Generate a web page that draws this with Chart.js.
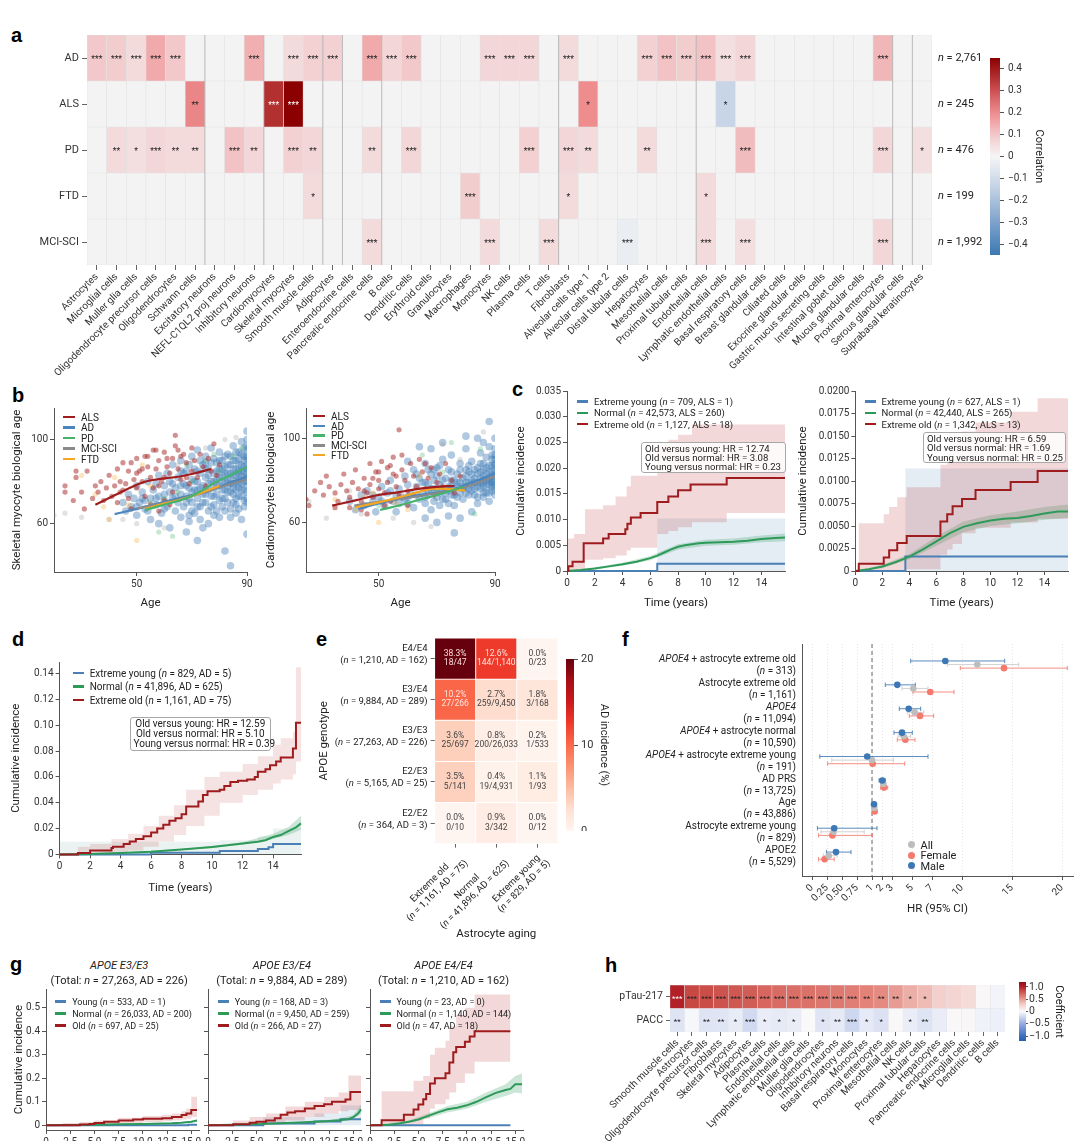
<!DOCTYPE html>
<html><head><meta charset="utf-8"><title>Figure</title>
<script src="https://cdn.jsdelivr.net/npm/chart.js@4.4.1/dist/chart.umd.min.js"></script>
<style>
html,body{margin:0;padding:0;background:#fff}
body{position:relative;width:1080px;height:1141px;overflow:hidden;font-family:Roboto,"Liberation Sans",Arial,sans-serif;color:#222}
canvas{position:absolute}
.t{position:absolute;white-space:nowrap;line-height:1;color:#222}
.pl{position:absolute;font:700 20px "Liberation Sans",Arial,sans-serif;color:#000;line-height:20px}
.lg{position:absolute;font-size:9.5px;line-height:11px;white-space:nowrap;color:#222}
.lg .s{display:inline-block;height:2.4px;vertical-align:middle;margin-right:6px;position:relative;top:-1px}
.lg .c{display:inline-block;width:7px;height:7px;border-radius:50%;vertical-align:middle;margin-right:6px;position:relative;top:-1px}
.box{position:absolute;border:1px solid #a8a8a8;border-radius:3px;background:rgba(255,255,255,0.85);font-size:9.6px;line-height:9.4px;padding:1px 3px;white-space:nowrap;color:#222;box-sizing:border-box}
</style></head><body>
<script>
const FF='Roboto, "Liberation Sans", Arial, sans-serif';
Chart.defaults.font.family=FF;Chart.defaults.font.size=10;Chart.defaults.color='#333';

/* ===================== DATA ===================== */
/* panel a */
const cellTypesA=['Astrocytes','Microglial cells','Muller glia cells','Oligodendrocyte precursor cells','Oligodendrocytes','Schwann cells','Excitatory neurons','NEFL-C1QL2 proj neurons','Inhibitory neurons','Cardiomyocytes','Skeletal myocytes','Smooth muscle cells','Adipocytes','Enteroendocrine cells','Pancreatic endocrine cells','B cells','Dendritic cells','Erythroid cells','Granulocytes','Macrophages','Monocytes','NK cells','Plasma cells','T cells','Fibroblasts','Alveolar cells type 1','Alveolar cells type 2','Distal tubular cells','Hepatocytes','Mesothelial cells','Proximal tubular cells','Endothelial cells','Lymphatic endothelial cells','Basal respiratory cells','Breast glandular cells','Ciliated cells','Exocrine glandular cells','Gastric mucus secreting cells','Intestinal goblet cells','Mucus glandular cells','Proximal enterocytes','Serous glandular cells','Suprabasal keratinocytes'];
const rowsA=['AD','ALS','PD','FTD','MCI-SCI'];
const nA=['n = 2,761','n = 245','n = 476','n = 199','n = 1,992'];
const sigAD=[[0,.10,'***'],[1,.09,'***'],[2,.06,'***'],[3,.15,'***'],[4,.10,'***'],[8,.14,'***'],[10,.06,'***'],[11,.08,'***'],[12,.08,'***'],[14,.15,'***'],[15,.07,'***'],[16,.10,'***'],[20,.07,'***'],[21,.07,'***'],[22,.07,'***'],[24,.06,'***'],[28,.08,'***'],[29,.11,'***'],[30,.09,'***'],[31,.11,'***'],[32,.05,'***'],[33,.07,'***'],[40,.13,'***']];
const sigALS=[[5,.21,'**'],[9,.36,'***'],[10,.45,'***'],[25,.20,'*'],[32,-.13,'*']];
const sigPD=[[1,.06,'**'],[2,.05,'*'],[3,.07,'***'],[4,.06,'**'],[5,.06,'**'],[7,.11,'***'],[8,.07,'**'],[10,.08,'***'],[11,.07,'**'],[14,.06,'**'],[16,.07,'***'],[22,.08,'***'],[24,.07,'***'],[25,.06,'**'],[28,.06,'**'],[33,.12,'***'],[40,.07,'***'],[42,.05,'*']];
const sigFTD=[[11,.06,'*'],[19,.09,'***'],[24,.06,'*'],[31,.06,'*']];
const sigMCI=[[14,.06,'***'],[20,.06,'***'],[23,.06,'***'],[27,-.03,'***'],[31,.06,'***'],[33,.05,'***'],[40,.07,'***']];
const groupStartsA=[6,9,12,13,15,24,31,41,42];
const corrTicks=[-0.4,-0.3,-0.2,-0.1,0,0.1,0.2,0.3,0.4];

/* panel b : skeletal myocytes */
const ptSkALS=[[24,78],[24,75],[27,71],[28,85],[28,82],[30,75],[31,67],[32,85],[34,72],[35,78],[36,75],[37,80],[38,71],[39,77],[40,83],[41,73],[42,78],[43,86],[44,80],[44,75],[45,89],[46,79],[47,72],[47,85],[48,89],[49,81],[50,77],[50,91],[51,85],[52,80],[53,92],[53,73],[54,87],[55,82],[56,95],[56,77],[57,86],[58,90],[59,80],[60,94],[60,71],[61,87],[62,84],[63,91],[63,75],[64,102],[64,97],[65,86],[66,81],[67,93],[68,89],[69,79],[70,96],[70,85],[71,90],[72,82],[73,93],[74,87],[75,78],[76,91],[77,85],[78,98],[79,83],[80,88],[55,69],[58,66],[62,69],[48,67],[52,86],[45,76],[60,82],[66,92],[58,78],[43,70],[50,84],[54,92],[57,95],[61,91],[65,95],[68,82]];
const ptSkAD=[[45,70],[46,66],[47,74],[48,68],[49,72],[50,64],[50,78],[51,70],[52,75],[53,67],[54,80],[55,72],[55,62],[56,76],[57,69],[58,83],[58,73],[59,65],[60,78],[60,71],[61,84],[61,68],[62,75],[62,80],[63,72],[63,88],[64,66],[64,77],[65,82],[65,70],[66,74],[66,90],[67,79],[67,68],[68,85],[68,73],[69,77],[69,64],[70,81],[70,92],[70,70],[71,76],[71,86],[72,72],[72,80],[72,95],[73,68],[73,84],[74,78],[74,88],[74,74],[75,82],[75,70],[75,92],[76,76],[76,86],[76,66],[77,80],[77,73],[77,96],[78,84],[78,77],[78,69],[79,89],[79,81],[79,74],[80,86],[80,78],[80,71],[80,94],[81,83],[81,76],[81,90],[82,80],[82,87],[82,72],[83,84],[83,78],[83,93],[84,81],[84,88],[84,75],[85,86],[85,79],[85,97],[85,70],[86,83],[86,90],[86,76],[87,88],[87,81],[87,94],[87,73],[88,85],[88,79],[88,99],[89,87],[89,82],[89,92],[89,76],[90,88],[90,84],[90,80],[90,95],[90,100],[90,75],[90,104],[72,52],[74,58],[68,56],[84,40],[82,47],[76,60],[88,62],[86,65],[90,55],[62,58],[58,60],[78,64],[82,66],[66,63],[71,65],[75,86],[77,89],[79,66],[81,68],[83,70],[85,74],[87,77],[89,71],[84,67],[86,69],[88,73],[80,63],[73,62],[69,61],[70,75],[73,77],[76,79],[79,78],[82,76],[84,79],[86,80],[88,82],[90,78],[90,91],[89,96],[87,85],[85,83],[83,81],[81,80],[78,80],[75,76],[72,76],[68,78],[64,73],[60,74],[57,72],[53,71],
 [66,78],[67,84],[68,70],[69,88],[70,66],[71,80],[72,85],[73,90],[74,70],[75,74],[76,83],[77,68],[78,91],[79,85],[80,82],[80,90],[81,72],[82,84],[82,92],[83,75],[83,88],[84,84],[84,92],[85,77],[85,90],[86,72],[86,86],[86,94],[87,79],[87,84],[87,91],[88,76],[88,88],[88,93],[89,80],[89,85],[89,90],[90,82],[90,86],[90,92],[90,97],[90,72],[90,70],[89,68],[87,67],[84,63],[81,86],[78,73],[75,89],[72,68],[69,72],[66,85],[63,79],[60,67],[57,79],[54,66],[52,72],[50,68]];
const ptSkPD=[[55,70],[60,72],[65,75],[70,80],[75,90],[80,85],[63,54],[85,92],[58,56],[68,88],[78,93],[88,96]];
const ptSkMCI=[[20,64],[24,65],[30,63],[40,62],[45,62],[50,60],[60,58],[65,88],[75,96],[82,100],[48,67],[70,90],[86,101]];
const ptSkFTD=[[30,83],[35,74],[40,62],[50,52],[42,82],[55,78],[47,69],[52,88],[38,68]];
const trSkALS=[[35,69],[42,73.5],[50,78.5],[54,80.3],[60,81.5],[65,82.3],[70,83.6],[77,86]];
const trSkAD=[[42,64.5],[50,67],[58,69.7],[65,72],[73,74.5],[80,77.5],[85,80],[90,82.5]];
const trSkPD=[[53,66.5],[60,69],[68,72.1],[74,76],[78,79.3],[84,83],[90,87]];
const trSkMCI=[[50,67.2],[57,69],[65,71.5],[75,75],[82,78],[90,81]];
const trSkFTD=[[53,67],[60,69.5],[66,71.3],[73,74.5],[80,78]];
/* panel b : cardiomyocytes */
const ptCaALS=[[25,71],[26,68],[28,75],[30,79],[31,73],[32,82],[33,77],[35,74],[36,70],[37,78],[38,83],[39,75],[40,72],[41,79],[42,85],[43,76],[44,70],[45,81],[46,74],[47,88],[47,78],[48,72],[49,84],[50,76],[50,80],[51,89],[52,74],[53,86],[53,79],[54,70],[55,83],[55,91],[56,77],[57,104],[57,73],[58,85],[59,80],[60,75],[61,88],[62,82],[62,73],[63,77],[64,90],[65,84],[66,76],[67,81],[68,86],[69,73],[70,79],[71,83],[72,77],[73,88],[75,80],[76,74],[78,82],[44,66],[46,64],[52,68],[60,68],[40,67],[35,67],[48,81],[58,92],[66,88],[54,87],[50,84],[45,75],[56,82]];
const ptCaAD=[[40,70],[42,66],[44,73],[45,68],[46,75],[48,70],[49,65],[50,72],[51,77],[52,68],[53,74],[54,80],[55,70],[56,65],[57,76],[58,72],[59,82],[60,69],[60,78],[61,74],[62,85],[62,67],[63,77],[64,71],[64,81],[65,74],[66,88],[66,69],[67,78],[67,73],[68,83],[68,66],[69,76],[69,80],[70,72],[70,86],[71,78],[71,68],[72,75],[72,90],[73,81],[73,71],[74,77],[74,85],[75,73],[75,80],[75,92],[76,76],[76,68],[77,83],[77,79],[78,74],[78,88],[79,81],[79,71],[80,77],[80,85],[80,95],[81,79],[81,73],[82,83],[82,89],[83,76],[83,81],[84,86],[84,72],[85,79],[85,84],[85,93],[86,77],[86,82],[86,88],[87,80],[87,74],[87,91],[88,84],[88,78],[88,96],[89,82],[89,87],[89,75],[90,80],[90,85],[90,90],[90,78],[90,95],[90,100],[90,83],[90,73],[89,92],[88,70],[86,98],[84,100],[82,65],[78,62],[74,63],[70,60],[66,62],[76,55],[88,108],[80,101],[68,95],[60,89],[64,96],[72,98],[71,74],[74,75],[77,77],[80,79],[83,79],[85,81],[87,83],[89,79],[90,87],[88,81],[86,79],[84,77],[82,78],[79,76],[76,73],[73,74],[70,76],[67,75],[63,73],[59,71],[56,73],[83,73],[86,74],[89,77],[81,76],
 [65,79],[66,72],[67,85],[68,76],[69,70],[70,82],[71,87],[72,80],[73,76],[74,69],[75,84],[76,80],[77,72],[78,85],[79,77],[80,74],[80,82],[81,87],[82,75],[82,80],[83,85],[84,79],[84,83],[85,76],[85,88],[86,80],[86,85],[87,77],[87,86],[88,80],[88,87],[89,79],[89,84],[90,76],[90,82],[90,88],[90,92],[89,90],[88,74],[86,72],[84,69],[81,84],[78,79],[75,77],[72,71],[69,85],[66,79],[63,83],[60,72],[57,69],[54,75],[51,70],[48,73]];
const ptCaPD=[[50,68],[55,71],[60,73],[70,75],[80,78],[83,64],[75,98],[65,92],[72,84],[85,95]];
const ptCaMCI=[[26,70],[32,62],[44,64],[55,62],[62,60],[68,58],[40,75],[72,97],[78,90],[86,103]];
const ptCaFTD=[[35,71],[42,66],[50,60],[48,74],[56,69],[60,66],[70,74],[45,72],[64,82]];
const trCaALS=[[34,68],[42,70.5],[49,72.8],[57,74.4],[63,75.8],[69,76.8],[76,77.4]];
const trCaAD=[[43,66.4],[50,69],[57,71.2],[65,73.2],[74.5,75.2],[82,79],[90,83.2]];
const trCaPD=[[50.5,65.9],[57,68],[63,70.4],[70,73],[79,76.8]];
const trCaMCI=[[41.6,68],[50,69.8],[63,72.3],[72,74.5],[80,76.8],[90,81.9]];
const trCaFTD=[[42,67.2],[50,69.5],[60,73],[69,76],[79.7,75.2]];
const bAgeTicks=[50,90], bBioTicks=[60,100];

/* panel c : ALS cumulative incidence (step points [t, value]; bands [t, lower, upper]) */
const yearTicks=[0,2,4,6,8,10,12,14];
const cLTicks=[0,0.005,0.01,0.015,0.02,0.025,0.03,0.035];
const cRTicks=[0,0.0025,0.005,0.0075,0.01,0.0125,0.015,0.0175,0.02];
const cLOld=[[0,0],[0.1,0.0009],[0.4,0.0018],[1.2,0.0054],[2.6,0.0063],[3.0,0.0072],[4.2,0.0081],[4.35,0.0092],[4.6,0.0104],[5.3,0.0113],[6.5,0.0134],[7.3,0.0145],[8.0,0.0157],[8.9,0.0168],[11.5,0.0181],[15.7,0.0181]];
const cLOldBand=[[0,0,0.0063],[0.5,0,0.0072],[1.3,0.0022,0.012],[2.6,0.0025,0.0128],[3.5,0.003,0.0145],[4.3,0.004,0.0165],[4.6,0.0045,0.0185],[6.5,0.0072,0.0245],[7.3,0.0078,0.0255],[8.0,0.0085,0.0265],[9.0,0.0095,0.0285],[11.5,0.0113,0.0285],[15.7,0.0113,0.0285]];
const cLNorm=[[0,0],[1,0.0002],[2,0.0005],[3,0.0009],[4,0.0013],[5,0.0018],[6,0.0025],[6.5,0.003],[7,0.0036],[7.5,0.0042],[8,0.0047],[8.5,0.005],[9,0.0052],[9.5,0.0054],[10,0.0055],[11,0.0056],[12,0.0057],[13,0.0059],[14,0.0062],[15,0.0064],[15.7,0.0065]];
const cLNormBand=[[0,0,0],[2,0.0003,0.0007],[4,0.001,0.0016],[6,0.0021,0.0029],[8,0.0042,0.0052],[10,0.0049,0.0061],[12,0.0051,0.0063],[14,0.0056,0.0069],[15.7,0.0058,0.0073]];
const cLYoung=[[0,0],[6.5,0.0014],[15.7,0.0014]];
const cLYoungBand=[[0,0,0],[6.5,0,0.0102],[15.7,0,0.0102]];
const cROld=[[0,0],[0.25,0.0008],[2.1,0.0015],[2.5,0.0023],[3.1,0.0031],[3.8,0.0039],[6.3,0.0055],[6.8,0.0063],[7.2,0.0072],[7.9,0.008],[8.9,0.009],[11.5,0.0099],[13.5,0.0111],[15.75,0.0111]];
const cROldBand=[[0,0,0],[0.25,0,0.0053],[2.1,0,0.0063],[2.5,0,0.0071],[3.1,0,0.0082],[3.8,0.0002,0.0093],[6.3,0.0018,0.0118],[6.8,0.0024,0.013],[7.2,0.003,0.0145],[7.9,0.0042,0.0155],[8.9,0.0048,0.0165],[11.5,0.0054,0.0177],[13.5,0.0058,0.0192],[15.75,0.0058,0.0192]];
const cRNorm=[[0,0],[1,0.0002],[2,0.0005],[3,0.001],[4,0.0016],[5,0.0024],[6,0.0033],[7,0.0042],[8,0.0049],[9,0.0053],[10,0.0056],[11,0.0058],[12,0.0059],[13,0.0061],[14,0.0064],[15,0.0066],[15.75,0.0066]];
const cRNormBand=[[0,0,0],[2,0.0003,0.0007],[4,0.0013,0.0019],[6,0.0028,0.0038],[8,0.0043,0.0055],[10,0.005,0.0062],[12,0.0053,0.0066],[14,0.0057,0.0071],[15.75,0.0059,0.0074]];
const cRYoung=[[0,0],[3.7,0.0016],[15.75,0.0016]];
const cRYoungBand=[[0,0,0],[3.7,0,0.0114],[15.75,0,0.0114]];

/* panel d : AD cumulative incidence */
const dTicks=[0,0.02,0.04,0.06,0.08,0.1,0.12,0.14];
const dOld=[[0,0],[1.2,0.001],[2.0,0.003],[3.4,0.005],[3.5,0.006],[4.2,0.008],[4.6,0.01],[5.0,0.012],[5.5,0.014],[6.0,0.017],[6.4,0.02],[6.8,0.023],[7.2,0.026],[7.6,0.028],[8.0,0.031],[8.3,0.037],[8.9,0.037],[9.1,0.041],[9.4,0.046],[9.7,0.049],[10.5,0.05],[10.8,0.053],[11.2,0.056],[11.7,0.057],[12.3,0.058],[12.8,0.06],[13.0,0.064],[13.5,0.066],[13.8,0.069],[14.2,0.072],[14.5,0.075],[15.2,0.075],[15.3,0.082],[15.5,0.102],[15.83,0.102]];
const dOldBand=[[0,0,0],[1.2,0,0.006],[2,0,0.008],[3.4,0.001,0.012],[4.5,0.003,0.016],[5.5,0.006,0.022],[6.5,0.01,0.03],[7.5,0.015,0.038],[8.3,0.022,0.05],[9.5,0.03,0.06],[10.5,0.04,0.064],[12,0.046,0.07],[13,0.05,0.076],[14,0.055,0.085],[14.5,0.058,0.09],[15.3,0.062,0.095],[15.5,0.072,0.145],[15.83,0.072,0.145]];
const dNorm=[[0,0],[2,0.0003],[4,0.001],[6,0.002],[8,0.0038],[10,0.0058],[11,0.007],[12,0.0085],[13,0.0098],[13.5,0.011],[14,0.0135],[14.5,0.015],[15,0.018],[15.5,0.021],[15.83,0.024]];
const dNormBand=[[0,0,0],[4,0.0006,0.0014],[8,0.0032,0.0044],[10,0.005,0.0066],[12,0.0075,0.0095],[14,0.012,0.016],[15,0.015,0.021],[15.83,0.019,0.03]];
const dYoung=[[0,0],[6,0.0013],[10.5,0.0027],[13.0,0.0041],[13.7,0.0055],[14.0,0.008],[15.83,0.008]];
const dYoungBand=[[0,0,0.0098],[6,0,0.0098],[10.5,0,0.011],[13,0,0.014],[14,0,0.02],[15.83,0,0.02]];

/* panel e */
const genotypes=['E4/E4','E3/E4','E3/E3','E2/E3','E2/E2'];
const genoN=['(n = 1,210, AD = 162)','(n = 9,884, AD = 289)','(n = 27,263, AD = 226)','(n = 5,165, AD = 25)','(n = 364, AD = 3)'];
const agingGroups=['Extreme old','Normal','Extreme young'];
const agingN=['(n = 1,161, AD = 75)','(n = 41,896, AD = 625)','(n = 829, AD = 5)'];
const incE=[[38.3,12.6,0.0],[10.2,2.7,1.8],[3.6,0.8,0.2],[3.5,0.4,1.1],[0.0,0.9,0.0]];
const cntE=[['18/47','144/1,140','0/23'],['27/266','259/9,450','3/168'],['25/697','200/26,033','1/533'],['5/141','19/4,931','1/93'],['0/10','3/342','0/12']];
const incTicks=[0,10,20];

/* panel f : HR [estimate, lower, upper] */
const fLabels=['APOE4 + astrocyte extreme old','Astrocyte extreme old','APOE4','APOE4 + astrocyte normal','APOE4 + astrocyte extreme young','AD PRS','Age','Astrocyte extreme young','APOE2'];
const fN=['(n = 313)','(n = 1,161)','(n = 11,094)','(n = 10,590)','(n = 191)','(n = 13,725)','(n = 43,886)','(n = 829)','(n = 5,529)'];
const hrMale=[[8.33,4.87,14.27],[3.53,2.33,5.33],[4.67,3.73,5.87],[4.0,3.2,5.03],[0.92,0.13,6.6],[2.03,1.7,2.33],[1.2,1.07,1.37],[0.37,0.09,1.5],[0.40,0.24,0.65]];
const hrAll=[[11.53,8.53,15.67],[5.13,4.0,6.6],[5.27,4.53,6.17],[4.17,3.6,4.87],[1.0,0.33,3.17],[2.13,1.87,2.4],[1.23,1.1,1.37],[0.36,0.15,0.87],[0.28,0.19,0.42]];
const hrFemale=[[14.2,9.83,20.53],[6.83,5.1,9.2],[5.8,4.73,7.17],[4.33,3.53,5.3],[1.07,0.26,4.27],[2.2,1.87,2.57],[1.27,1.1,1.43],[0.34,0.11,1.03],[0.21,0.11,0.37]];
const fTickHR=[0,0.25,0.5,0.75,1,2,3,5,7,10,15,20];
const fTickLab=['0','0.25','0.50','0.75','1','2','3','5','7','10','15','20'];

/* panel g */
const gYTicks=[0,0.1,0.2,0.3,0.4,0.5];
const gXTicks=[0,2.5,5,7.5,10,12.5,15];
const gE33Old=[[0,0],[3.5,0.003],[4.5,0.006],[5,0.01],[6,0.015],[7.5,0.02],[9,0.025],[10,0.028],[12,0.03],[13,0.035],[14,0.044],[14.5,0.05],[15,0.065],[15.6,0.065]];
const gE33OldBand=[[0,0,0],[1.7,0,0.01],[3.5,0,0.014],[5,0.002,0.02],[7.5,0.008,0.032],[10,0.014,0.04],[12,0.017,0.045],[13,0.02,0.05],[14,0.025,0.06],[14.5,0.028,0.07],[15,0.035,0.122],[15.6,0.035,0.122]];
const gE33Norm=[[0,0],[3,0.001],[5,0.002],[7.5,0.004],[10,0.006],[12,0.008],[13,0.009],[14,0.011],[15,0.015],[15.6,0.02]];
const gE33NormBand=[[0,0,0],[5,0.001,0.003],[10,0.005,0.007],[13,0.008,0.011],[15,0.012,0.018],[15.6,0.015,0.025]];
const gE33Young=[[0,0],[14.7,0.002],[15.6,0.002]];
const gE34Old=[[0,0],[2.6,0.004],[4.3,0.011],[5,0.015],[6,0.02],[6.9,0.03],[7.5,0.045],[8.2,0.054],[9,0.06],[10,0.071],[11,0.082],[12,0.09],[12.8,0.1],[14.2,0.11],[14.7,0.142],[15.8,0.142]];
const gE34OldBand=[[0,0,0],[2.6,0,0.02],[4.3,0,0.035],[6,0.005,0.05],[8,0.02,0.08],[10,0.035,0.1],[12,0.05,0.12],[13.5,0.06,0.14],[14.5,0.065,0.212],[15.8,0.08,0.212]];
const gE34Norm=[[0,0],[2.5,0.002],[5,0.005],[7.5,0.009],[10,0.013],[12.5,0.018],[13.5,0.021],[14.5,0.026],[15,0.035],[15.5,0.05],[15.8,0.068]];
const gE34NormBand=[[0,0,0],[5,0.003,0.007],[10,0.01,0.016],[13,0.016,0.025],[15,0.027,0.043],[15.8,0.05,0.085]];
const gE34Young=[[0,0],[5.7,0.008],[11,0.016],[13.7,0.026],[15.8,0.026]];
const gE34YoungBand=[[0,0,0],[5.7,0,0.035],[11,0,0.05],[13.7,0,0.085],[15.8,0,0.085]];
const gE44Old=[[0,0],[1.2,0.022],[3.5,0.045],[4.5,0.067],[5,0.089],[5.5,0.111],[5.8,0.133],[6.2,0.178],[6.7,0.2],[7.8,0.222],[8.2,0.267],[8.6,0.311],[8.9,0.333],[9.8,0.356],[10.3,0.378],[10.8,0.4],[14.5,0.4]];
const gE44OldBand=[[0,0,0],[1.2,0,0.145],[4.5,0.005,0.19],[5.5,0.03,0.21],[6.2,0.07,0.3],[6.7,0.09,0.33],[7.8,0.11,0.36],[8.2,0.14,0.42],[8.9,0.18,0.47],[9.8,0.22,0.5],[10.8,0.27,0.557],[14.5,0.27,0.557]];
const gE44Norm=[[0,0],[2,0.002],[3,0.008],[4,0.015],[5,0.025],[6,0.04],[7,0.055],[8,0.068],[9,0.075],[10,0.085],[11,0.1],[12,0.12],[13,0.138],[14,0.15],[14.5,0.155],[15,0.175],[15.7,0.175]];
const gE44NormBand=[[0,0,0],[4,0.01,0.02],[6,0.03,0.05],[8,0.055,0.082],[10,0.07,0.1],[12,0.1,0.14],[14,0.125,0.175],[15,0.14,0.21],[15.7,0.135,0.22]];
const gE44Young=[[0,0],[14.5,0]];

/* panel h */
const cellTypesH=['Smooth muscle cells','Astrocytes','Oligodendrocyte precursor cells','Fibroblasts','Skeletal myocytes','Adipocytes','Plasma cells','Endothelial cells','Lymphatic endothelial cells','Muller glia cells','Oligodendrocytes','Inhibitory neurons','Basal respiratory cells','Monocytes','Proximal enterocytes','Mesothelial cells','NK cells','Proximal tubular cells','Hepatocytes','Pancreatic endocrine cells','Microglial cells','Dendritic cells','B cells'];
const rowsH=['pTau-217','PACC'];
const coefPtau=[1.0,0.85,0.83,0.80,0.78,0.76,0.72,0.70,0.68,0.67,0.65,0.64,0.62,0.60,0.57,0.50,0.42,0.37,0.28,0.25,0.20,0.02,-0.04];
const starsPtau=['***','***','***','***','***','***','***','***','***','***','***','***','***','**','**','**','*','*','','','','',''];
const coefPacc=[-0.14,-0.02,-0.14,-0.13,-0.09,-0.2,-0.08,-0.1,-0.08,0.01,-0.13,-0.1,-0.22,-0.1,-0.15,0.02,-0.08,-0.14,-0.08,0.02,0.03,-0.05,-0.06];
const starsPacc=['**','','**','**','*','***','*','*','*','','*','**','***','*','*','','*','**','','','','',''];
const coefTicks=[-1,-0.5,0,0.5,1];
const coefTickLab=['\u22121.0','\u22120.5','0','0.5','1.0'];

/* ===================== COLOUR MAPS ===================== */
function interp(stops,v){if(v<=stops[0][0])return stops[0][1];for(let i=1;i<stops.length;i++){if(v<=stops[i][0]){const a=stops[i-1],b=stops[i];const f=(v-a[0])/(b[0]-a[0]);return a[1].map((c,j)=>c+(b[1][j]-c)*f);}}return stops[stops.length-1][1];}
const rgb=c=>'rgb('+c.map(Math.round).join(',')+')';
const corrStops=[[-0.45,[60,120,178]],[-0.3,[125,162,203]],[-0.15,[192,208,228]],[0,[245,245,245]],[0.1,[242,200,202]],[0.2,[238,140,142]],[0.3,[205,80,82]],[0.45,[139,0,0]]];
const redsStops=[[0,[255,245,240]],[2.5,[254,224,210]],[5,[252,187,161]],[7.5,[252,146,114]],[10,[251,106,74]],[12.5,[239,59,44]],[15,[203,24,29]],[17.5,[165,15,21]],[20,[103,0,13]]];
const coefStops=[[-1.2,[40,95,175]],[-1,[60,110,190]],[-0.5,[150,170,225]],[0,[250,250,252]],[0.3,[243,205,200]],[0.6,[226,130,120]],[0.85,[200,72,68]],[1.0,[178,32,40]],[1.2,[150,10,25]]];
const corrColor=v=>rgb(interp(corrStops,v)), redColor=v=>rgb(interp(redsStops,v)), coefColor=v=>rgb(interp(coefStops,v));

/* ===================== HELPERS ===================== */
function mk(area,m){const cv=document.createElement('canvas');const w=Math.round(area[2]-area[0]+m[0]+m[2]),h=Math.round(area[3]-area[1]+m[1]+m[3]);cv.style.left=(area[0]-m[0])+'px';cv.style.top=(area[1]-m[1])+'px';cv.width=w;cv.height=h;cv.style.width=w+'px';cv.style.height=h+'px';document.body.appendChild(cv);return cv;}
const fit=n=>s=>{if(s.isHorizontal())s.height=n;else s.width=n;s.paddingLeft=s.paddingRight=s.paddingTop=s.paddingBottom=0;};
function base(m,rightAxis){return {responsive:false,maintainAspectRatio:false,animation:false,events:[],layout:{padding:{left:0,top:m[1],right:rightAxis?0:m[2],bottom:0}},plugins:{legend:{display:false},tooltip:{enabled:false}}};}
function ax(o){const s={type:'linear',min:o.min,max:o.max,reverse:!!o.rev,afterBuildTicks:sc=>{sc.ticks=o.ticks.map(v=>({value:v}));},
 ticks:{display:o.labels!==false,callback:(v,i)=>o.fmt?o.fmt(o.ticks[i],i):String(o.ticks[i]),font:{size:o.fs||10},color:'#333',padding:o.pad===undefined?2:o.pad,maxRotation:o.rot||0,minRotation:o.rot||0,autoSkip:false},
 grid:{display:true,drawOnChartArea:!!o.gridOn,drawTicks:true,tickLength:o.tl||4,color:o.gridColor||'#555',tickColor:'#555',lineWidth:1},
 border:{display:o.border!==false,color:'#555',width:1,dash:o.dash||[]},afterFit:fit(o.fit)};
 if(o.pos)s.position=o.pos;
 if(o.title)s.title={display:true,text:o.title,font:{size:o.tfs||11},color:'#222',padding:{top:4,bottom:4}};
 return s;}
const toXY=a=>a.map(p=>({x:p[0],y:p[1]}));
function richText(ctx,str,x,y,align,size,color){const toks=str.split(/(APOE4|\bn(?= =))/).filter(s=>s.length);const fonts=toks.map(t=>(/^(APOE4|n)$/.test(t)?'italic ':'')+size+'px '+FF);let w=0;toks.forEach((t,i)=>{ctx.font=fonts[i];w+=ctx.measureText(t).width;});let cx=align==='right'?x-w:align==='center'?x-w/2:x;ctx.textAlign='left';ctx.textBaseline='middle';ctx.fillStyle=color||'#222';toks.forEach((t,i)=>{ctx.font=fonts[i];ctx.fillText(t,cx,y);cx+=ctx.measureText(t).width;});return w;}
function gradient(chart,cmap,vmin,vmax){const a=chart.chartArea;if(!a)return '#ccc';const y=chart.scales.y;const g=chart.ctx.createLinearGradient(0,y.getPixelForValue(vmin),0,y.getPixelForValue(vmax));for(let i=0;i<=24;i++){g.addColorStop(i/24,cmap(vmin+(vmax-vmin)*i/24));}return g;}
function colorbar(area,m,o){const cv=mk(area,m);new Chart(cv,{type:'bar',data:{labels:[''],datasets:[{data:[[o.min,o.max]],backgroundColor:c=>gradient(c.chart,o.cmap,o.min,o.max),barPercentage:1,categoryPercentage:1,borderWidth:0}]},options:Object.assign(base(m,true),{scales:{x:{display:false},y:ax({min:o.min,max:o.max,ticks:o.ticks,fmt:o.fmt,pos:'right',title:o.title,fit:m[2],border:false,tl:o.tl||4,pad:o.pad===undefined?3:o.pad,fs:o.fs||10})}})});}
function div(cls,x,y,html,st){const d=document.createElement('div');d.className=cls;d.style.left=x+'px';d.style.top=y+'px';d.innerHTML=html;if(st)Object.assign(d.style,st);document.body.appendChild(d);return d;}
function legend(x,yc,items,o){o=o||{};const lh=o.lh||11;const d=div('lg',x,yc-lh/2,items.map(([c,t])=>o.dot?`<div><span class="c" style="background:${c}"></span>${t}</div>`:`<div><span class="s" style="background:${c};width:${o.sw||11}px"></span>${t}</div>`).join(''),{lineHeight:lh+'px',fontSize:(o.fs||9.5)+'px'});return d;}
const RED='#9e1b1e',GREEN='#2e9a5a',BLUE='#4a80b5';
const RED_F='rgba(190,60,60,0.2)',GREEN_F='rgba(46,154,90,0.25)',BLUE_F='rgba(74,128,181,0.15)';

function kmChart(area,m,o){const cv=mk(area,m);const ds=[];
 o.series.forEach(s=>ds.push({data:toXY(s.line),borderColor:s.color,borderWidth:o.lw||1.8,pointRadius:0,stepped:s.step,fill:false,clip:4}));
 o.series.forEach(s=>{if(!s.band)return;ds.push({data:s.band.map(b=>({x:b[0],y:b[2]})),borderColor:'rgba(0,0,0,0)',borderWidth:0,pointRadius:0,stepped:s.step,backgroundColor:s.fillc,fill:'+1'});ds.push({data:s.band.map(b=>({x:b[0],y:b[1]})),borderColor:'rgba(0,0,0,0)',borderWidth:0,pointRadius:0,stepped:s.step,fill:false});});
 new Chart(cv,{type:'line',data:{datasets:ds},options:Object.assign(base(m),{scales:{x:ax(o.x),y:ax(o.y)}})});}

/* ===================== PANEL LETTERS ===================== */
[['a',11,25],['b',12,385],['c',512,379],['d',12,629],['e',316,629],['f',622,629],['g',10,954],['h',605,955]].forEach(([l,x,y])=>div('pl',x,y,l));

/* ===================== PANEL a ===================== */
(function(){
 const sigRows=[sigAD,sigALS,sigPD,sigFTD,sigMCI];
 const colorRows=sigRows.map(sig=>{const c=cellTypesA.map(()=> '#f3f3f3');sig.forEach(([k,v])=>{c[k]=corrColor(v);});return c;});
 const m=[87,3,75,112];const cv=mk([87,35,932,265],m);
 const plug={id:'astars',afterDatasetsDraw(ch){const ctx=ch.ctx,x=ch.scales.x,y=ch.scales.y,a=ch.chartArea;ctx.save();
   ctx.strokeStyle='rgba(150,150,150,0.55)';ctx.lineWidth=1;groupStartsA.forEach(k=>{const px=(x.getPixelForValue(k-1)+x.getPixelForValue(k))/2;ctx.beginPath();ctx.moveTo(px,a.top);ctx.lineTo(px,a.bottom);ctx.stroke();});
   ctx.font='8.5px '+FF;ctx.textAlign='center';ctx.textBaseline='middle';
   sigRows.forEach((row,i)=>row.forEach(([k,v,s])=>{ctx.fillStyle=v>0.3?'#fff':'#222';ctx.fillText(s,x.getPixelForValue(k),y.getPixelForValue(i+0.5)+2);}));
   nA.forEach((t,i)=>richText(ctx,t,a.right+6,y.getPixelForValue(i+0.5),'left',11,'#222'));ctx.restore();}};
 new Chart(cv,{type:'bar',data:{labels:cellTypesA,datasets:colorRows.map(c=>({data:cellTypesA.map(()=>1),backgroundColor:c,borderColor:'#e2e2e2',borderWidth:0.6,borderSkipped:false,barPercentage:1,categoryPercentage:1}))},
  options:Object.assign(base(m),{scales:{
   x:{type:'category',stacked:true,ticks:{autoSkip:false,maxRotation:45,minRotation:45,font:{size:10},padding:1,color:'#333'},grid:{display:true,drawOnChartArea:false,drawTicks:true,tickLength:5,tickColor:'#666',offset:false},border:{display:false},afterFit:fit(112)},
   y:{type:'linear',stacked:true,min:0,max:5,reverse:true,afterBuildTicks:s=>{s.ticks=rowsA.map((r,i)=>({value:i+0.5}));},ticks:{callback:(v,i)=>rowsA[i],font:{size:11},color:'#333',padding:3},grid:{display:true,drawOnChartArea:false,drawTicks:true,tickLength:5,tickColor:'#666'},border:{display:false},afterFit:fit(87)}
  }}),plugins:[plug]});
 colorbar([990,58,1000,247],[0,8,49,8],{min:-0.45,max:0.45,ticks:corrTicks,fmt:v=>v===0?'0':(v<0?'\u2212':'')+Math.abs(v).toFixed(1),cmap:corrColor,title:'Correlation',pad:4});
})();

/* ===================== PANEL b ===================== */
function scatterB(area,m,o){const cv=mk(area,m);const ds=[];
 o.trends.forEach(([d,c])=>ds.push({type:'line',data:toXY(d),borderColor:c,borderWidth:2.2,pointRadius:0,showLine:true,fill:false,tension:0.4}));
 o.pts.forEach(([d,c,r])=>ds.push({data:toXY(d),backgroundColor:c,pointRadius:r,borderWidth:0}));
 new Chart(cv,{type:'scatter',data:{datasets:ds},options:Object.assign(base(m),{scales:{x:ax({min:o.xmin,max:90,ticks:bAgeTicks,title:'Age',fit:m[3],tfs:11.5}),y:ax({min:o.ymin,max:o.ymax,ticks:bBioTicks,title:o.ytitle,fit:m[0],tfs:11.5})}})});}
const bCol={ALS:'#a11d1d',AD:'#4a86bd',PD:'#45b36c',MCI:'#8a8a8a',FTD:'#f5a623'};
scatterB([54,408,247,571.7],[48,4,6,42],{xmin:20,ymin:37,ymax:115,ytitle:'Skeletal myocyte biological age',
 trends:[[trSkALS,bCol.ALS],[trSkPD,bCol.PD],[trSkFTD,bCol.FTD],[trSkMCI,bCol.MCI],[trSkAD,bCol.AD]],
 pts:[[ptSkALS,'rgba(165,35,35,0.5)',2.6],[ptSkPD,'rgba(69,179,108,0.3)',2.6],[ptSkFTD,'rgba(245,166,35,0.3)',2.6],[ptSkMCI,'rgba(138,138,138,0.25)',2.6],[ptSkAD,'rgba(66,126,184,0.42)',3.8]]});
scatterB([306,408,495,571.7],[46,4,6,42],{xmin:25,ymin:36.4,ymax:114.4,ytitle:'Cardiomyocytes biological age',
 trends:[[trCaALS,bCol.ALS],[trCaPD,bCol.PD],[trCaFTD,bCol.FTD],[trCaMCI,bCol.MCI],[trCaAD,bCol.AD]],
 pts:[[ptCaALS,'rgba(165,35,35,0.5)',2.6],[ptCaPD,'rgba(69,179,108,0.3)',2.6],[ptCaFTD,'rgba(245,166,35,0.3)',2.6],[ptCaMCI,'rgba(138,138,138,0.25)',2.6],[ptCaAD,'rgba(66,126,184,0.42)',3.8]]});
const bItems=[[bCol.ALS,'ALS'],[bCol.AD,'AD'],[bCol.PD,'PD'],[bCol.MCI,'MCI-SCI'],[bCol.FTD,'FTD']];
legend(63,418,bItems,{lh:10.5,fs:10,sw:12});
legend(313,416.7,bItems,{lh:9.7,fs:10,sw:12});

/* ===================== PANEL c ===================== */
const yr=v=>String(v);
kmChart([567.4,390.7,785.6,570.7],[57,8,6,43],{lw:2,
 series:[{line:cLOld,band:cLOldBand,color:RED,fillc:RED_F,step:true},{line:cLNorm,band:cLNormBand,color:GREEN,fillc:GREEN_F,step:false},{line:cLYoung,band:cLYoungBand,color:BLUE,fillc:BLUE_F,step:true}],
 x:{min:0,max:15.7,ticks:yearTicks,fmt:yr,title:'Time (years)',fit:43,tfs:11.5},
 y:{min:0,max:0.035,ticks:cLTicks,fmt:v=>v===0?'0':v.toFixed(3),title:'Cumulative incidence',fit:57,tfs:11.5}});
kmChart([855.5,390.7,1068,570.7],[63.4,8,8,43],{lw:2,
 series:[{line:cROld,band:cROldBand,color:RED,fillc:RED_F,step:true},{line:cRNorm,band:cRNormBand,color:GREEN,fillc:GREEN_F,step:false},{line:cRYoung,band:cRYoungBand,color:BLUE,fillc:BLUE_F,step:true}],
 x:{min:0,max:15.75,ticks:yearTicks,fmt:yr,title:'Time (years)',fit:43,tfs:11.5},
 y:{min:0,max:0.02,ticks:cRTicks,fmt:v=>v===0?'0':v.toFixed(4),title:'Cumulative incidence',fit:63.4,tfs:11.5}});
legend(577,401.7,[[BLUE,'Extreme young (<i>n</i> = 709, ALS = 1)'],[GREEN,'Normal (<i>n</i> = 42,573, ALS = 260)'],[RED,'Extreme old (<i>n</i> = 1,127, ALS = 18)']],{lh:11.2,fs:9.5});
legend(864.5,401.7,[[BLUE,'Extreme young (<i>n</i> = 627, ALS = 1)'],[GREEN,'Normal (<i>n</i> = 42,440, ALS = 265)'],[RED,'Extreme old (<i>n</i> = 1,342, ALS = 13)']],{lh:11.2,fs:9.5});
div('box',641,441.5,'Old versus young: HR = 12.74<br>Old versus normal: HR = 3.08<br>Young versus normal: HR = 0.23',{width:'145px',height:'31px'});
div('box',923,432,'Old versus young: HR = 6.59<br>Old versus normal: HR = 1.69<br>Young versus normal: HR = 0.25',{width:'143px',height:'31px'});

/* ===================== PANEL d ===================== */
kmChart([59.3,661.7,300.8,854.3],[54.6,6,8,44.6],{lw:2,
 series:[{line:dOld,band:dOldBand,color:RED,fillc:'rgba(190,60,60,0.15)',step:true},{line:dNorm,band:dNormBand,color:GREEN,fillc:GREEN_F,step:false},{line:dYoung,band:dYoungBand,color:BLUE,fillc:'rgba(90,160,150,0.13)',step:true}],
 x:{min:0,max:15.83,ticks:yearTicks,fmt:yr,title:'Time (years)',fit:44.6,tfs:11.5},
 y:{min:0,max:0.149,ticks:dTicks,fmt:v=>v===0?'0':v.toFixed(2),title:'Cumulative incidence',fit:54.6,tfs:11.5}});
legend(72.7,673.3,[[BLUE,'Extreme young (<i>n</i> = 829, AD = 5)'],[GREEN,'Normal (<i>n</i> = 41,896, AD = 625)'],[RED,'Extreme old (<i>n</i> = 1,161, AD = 75)']],{lh:13.5,fs:10});
div('box',129.5,716.5,'Old versus young: HR = 12.59<br>Old versus normal: HR = 5.10<br>Young versus normal: HR = 0.39',{width:'141.5px',height:'34px',textAlign:'center',lineHeight:'10.2px',paddingTop:'1.5px',fontSize:'10px'});

/* ===================== PANEL e ===================== */
(function(){
 const m=[121.6,2,2,101.3];const cv=mk([434.4,638.3,557.6,844.3],m);
 const plug={id:'etext',afterDraw(ch){const ctx=ch.ctx,x=ch.scales.x,y=ch.scales.y,a=ch.chartArea;ctx.save();
  incE.forEach((row,i)=>row.forEach((v,k)=>{const px=x.getPixelForValue(k),py=y.getPixelForValue(i+0.5);const col=v>9?'rgba(255,235,230,0.95)':'#444';ctx.font='8.5px '+FF;ctx.textAlign='center';ctx.textBaseline='middle';ctx.fillStyle=col;ctx.fillText(v.toFixed(1)+'%',px,py-5);ctx.fillText(cntE[i][k],px,py+4.5);}));
  genotypes.forEach((g,i)=>{const py=y.getPixelForValue(i+0.5);richText(ctx,g,a.left-7,py-10,'right',9.5);richText(ctx,genoN[i],a.left-7,py+2,'right',9.5);});
  agingGroups.forEach((g,k)=>{const px=x.getPixelForValue(k);ctx.save();ctx.translate(px+4,a.bottom+10);ctx.rotate(-Math.PI/4);ctx.font='9.5px '+FF;const w1=ctx.measureText(g).width;const w2=ctx.measureText(agingN[k]).width;const W=Math.max(w1,w2+1);richText(ctx,g,-W/2,0,'center',9.5);richText(ctx,agingN[k],-W/2,11,'center',9.5);ctx.restore();});
  ctx.restore();}};
 new Chart(cv,{type:'bar',data:{labels:agingGroups,datasets:incE.map(row=>({data:agingGroups.map(()=>1),backgroundColor:row.map(redColor),borderColor:'rgba(255,255,255,0.9)',borderWidth:0.8,borderSkipped:false,barPercentage:1,categoryPercentage:1}))},
  options:Object.assign(base(m),{scales:{
   x:{type:'category',stacked:true,ticks:{callback:()=>'',autoSkip:false},grid:{display:true,drawOnChartArea:false,drawTicks:true,tickLength:4,tickColor:'#666',offset:false},border:{display:false},title:{display:true,text:'Astrocyte aging',font:{size:11.5},color:'#222',padding:{top:4,bottom:4}},afterFit:fit(101.3)},
   y:{type:'linear',stacked:true,min:0,max:5,reverse:true,afterBuildTicks:s=>{s.ticks=genotypes.map((g,i)=>({value:i+0.5}));},ticks:{callback:()=>''},grid:{display:true,drawOnChartArea:false,drawTicks:true,tickLength:4,tickColor:'#666'},border:{display:false},title:{display:true,text:'APOE genotype',font:{size:11.5},color:'#222',padding:{top:4,bottom:4}},afterFit:fit(121.6)}
  }}),plugins:[plug]});
 colorbar([565.6,659.3,573.6,823.3],[0,8,40,8],{min:0,max:20,ticks:incTicks,fmt:v=>String(v),cmap:redColor,title:'AD incidence (%)',pad:3,fs:11});
})();

/* ===================== PANEL f ===================== */
(function(){
 const T=h=>h<1?h*6:h+5;
 const m=[180,4,6,44];const cv=mk([802.3,643.3,1073.3,876.7],m);
 const ser=[[hrMale,-0.15,'#3d78b5','rgba(61,120,181,0.85)'],[hrAll,0,'#bdbdbd','#d2d2d2'],[hrFemale,0.15,'#f57a6d','rgba(245,122,109,0.85)']];
 const ds=[];
 ser.forEach(([arr,off,c])=>ds.push({type:'scatter',data:arr.map((r,g)=>({x:T(r[0]),y:g+off})),backgroundColor:c,pointRadius:3.3,borderWidth:0}));
 ser.forEach(([arr,off,c,lc])=>ds.push({type:'line',data:arr.flatMap((r,g)=>[{x:T(r[1]),y:g+off},{x:T(r[2]),y:g+off},{x:null,y:null}]),borderColor:lc,borderWidth:1,showLine:true,spanGaps:false,pointStyle:'line',rotation:90,pointRadius:2.2,pointBorderColor:lc,pointBorderWidth:1,fill:false}));
 ds.push({type:'line',data:[{x:T(1),y:-0.86},{x:T(1),y:8.85}],borderColor:'#666',borderWidth:1,borderDash:[4,3],pointRadius:0,showLine:true,fill:false});
 const plug={id:'flab',afterDraw(ch){const ctx=ch.ctx,y=ch.scales.y,x0=ch.chartArea.left-6;ctx.save();fLabels.forEach((l,g)=>{const py=y.getPixelForValue(g);richText(ctx,l,x0,py-5,'right',10);richText(ctx,fN[g],x0,py+7,'right',10);});ctx.restore();}};
 new Chart(cv,{type:'scatter',data:{datasets:ds},options:Object.assign(base(m),{scales:{
  x:ax({min:-1,max:26.1,ticks:fTickHR.map(T),fmt:(v,i)=>fTickLab[i],rot:45,title:'HR (95% CI)',fit:44,gridOn:true,gridColor:'#e6e6e6',dash:[1,2],fs:10,tfs:11.5}),
  y:{type:'linear',min:-0.86,max:8.85,reverse:true,ticks:{display:false},grid:{display:false},border:{display:true,color:'#555'},afterFit:fit(180)}
 }}),plugins:[plug]});
 legend(907.5,846,[['#bdbdbd','All'],['#f57a6d','Female'],['#3d78b5','Male']],{dot:true,lh:10.6,fs:11});
})();

/* ===================== PANEL g ===================== */
const gFmt=v=>v===0?'0':v.toFixed(1);
const gPlots=[
 {l:45.7,ml:38,title:'APOE E3/E3',total:'(Total: <i>n</i> = 27,263, AD = 226)',leg:['Young (<i>n</i> = 533, AD = 1)','Normal (<i>n</i> = 26,033, AD = 200)','Old (<i>n</i> = 697, AD = 25)'],
  series:[{line:gE33Old,band:gE33OldBand,color:RED,fillc:RED_F,step:true},{line:gE33Norm,band:gE33NormBand,color:GREEN,fillc:GREEN_F,step:false},{line:gE33Young,color:BLUE,step:true}]},
 {l:208.3,ml:8,title:'APOE E3/E4',total:'(Total: <i>n</i> = 9,884, AD = 289)',leg:['Young (<i>n</i> = 168, AD = 3)','Normal (<i>n</i> = 9,450, AD = 259)','Old (<i>n</i> = 266, AD = 27)'],
  series:[{line:gE34Old,band:gE34OldBand,color:RED,fillc:RED_F,step:true},{line:gE34Norm,band:gE34NormBand,color:GREEN,fillc:GREEN_F,step:false},{line:gE34Young,band:gE34YoungBand,color:BLUE,fillc:BLUE_F,step:true}]},
 {l:370,ml:8,title:'APOE E4/E4',total:'(Total: <i>n</i> = 1,210, AD = 162)',leg:['Young (<i>n</i> = 23, AD = 0)','Normal (<i>n</i> = 1,140, AD = 144)','Old (<i>n</i> = 47, AD = 18)'],
  series:[{line:gE44Old,band:gE44OldBand,color:RED,fillc:RED_F,step:true},{line:gE44Norm,band:gE44NormBand,color:GREEN,fillc:GREEN_F,step:false},{line:gE44Young,color:BLUE,step:true}]}
];
gPlots.forEach((p,i)=>{
 kmChart([p.l,989.3,p.l+152.7,1130.7],[p.ml,4,4,26],{lw:2,series:p.series,
  x:{min:0,max:15.8,ticks:gXTicks,fmt:gFmt,fit:26},
  y:{min:-0.02,max:0.58,ticks:gYTicks,fmt:gFmt,labels:i===0,title:i===0?'Cumulative incidence':null,fit:p.ml,tfs:11.5}});
 const cx=p.l+73.5;
 div('t',cx,960,'<i>'+p.title+'</i>',{fontSize:'11px',transform:'translateX(-50%)'});
 div('t',cx,975,p.total,{fontSize:'11px',transform:'translateX(-50%)'});
 legend(p.l+9.5,1001.7,[[BLUE,p.leg[0]],[GREEN,p.leg[1]],[RED,p.leg[2]]],{lh:12,fs:9});
});

/* ===================== PANEL h ===================== */
(function(){
 const rows=[[coefPtau,starsPtau],[coefPacc,starsPacc]];
 const m=[70,2,2,110];const cv=mk([670,985,1005,1031.7],m);
 const plug={id:'hstars',afterDatasetsDraw(ch){const ctx=ch.ctx,x=ch.scales.x,y=ch.scales.y;ctx.save();ctx.font='8px '+FF;ctx.textAlign='center';ctx.textBaseline='middle';
  rows.forEach(([v,s],i)=>s.forEach((st,k)=>{if(!st)return;ctx.fillStyle=v[k]>0.9?'#fff':'#222';ctx.fillText(st,x.getPixelForValue(k),y.getPixelForValue(i+0.5)+2);}));ctx.restore();}};
 new Chart(cv,{type:'bar',data:{labels:cellTypesH,datasets:rows.map(([v])=>({data:cellTypesH.map(()=>1),backgroundColor:v.map(coefColor),borderColor:'rgba(225,225,230,0.9)',borderWidth:0.5,borderSkipped:false,barPercentage:1,categoryPercentage:1}))},
  options:Object.assign(base(m),{scales:{
   x:{type:'category',stacked:true,ticks:{autoSkip:false,maxRotation:45,minRotation:45,font:{size:10},padding:1,color:'#333'},grid:{display:true,drawOnChartArea:false,drawTicks:true,tickLength:4,tickColor:'#666',offset:false},border:{display:false},afterFit:fit(110)},
   y:{type:'linear',stacked:true,min:0,max:2,reverse:true,afterBuildTicks:s=>{s.ticks=rowsH.map((r,i)=>({value:i+0.5}));},ticks:{callback:(v,i)=>rowsH[i],font:{size:10.5},color:'#333',padding:3},grid:{display:true,drawOnChartArea:false,drawTicks:true,tickLength:4,tickColor:'#666'},border:{display:false},afterFit:fit(70)}
  }}),plugins:[plug]});
 colorbar([1019,982,1026,1033],[0,8,43,8],{min:-1.2,max:1.2,ticks:coefTicks,fmt:(v,i)=>coefTickLab[i],cmap:coefColor,title:'Coefficient',tl:2,pad:1,fs:10.5});
})();
</script></body></html>
